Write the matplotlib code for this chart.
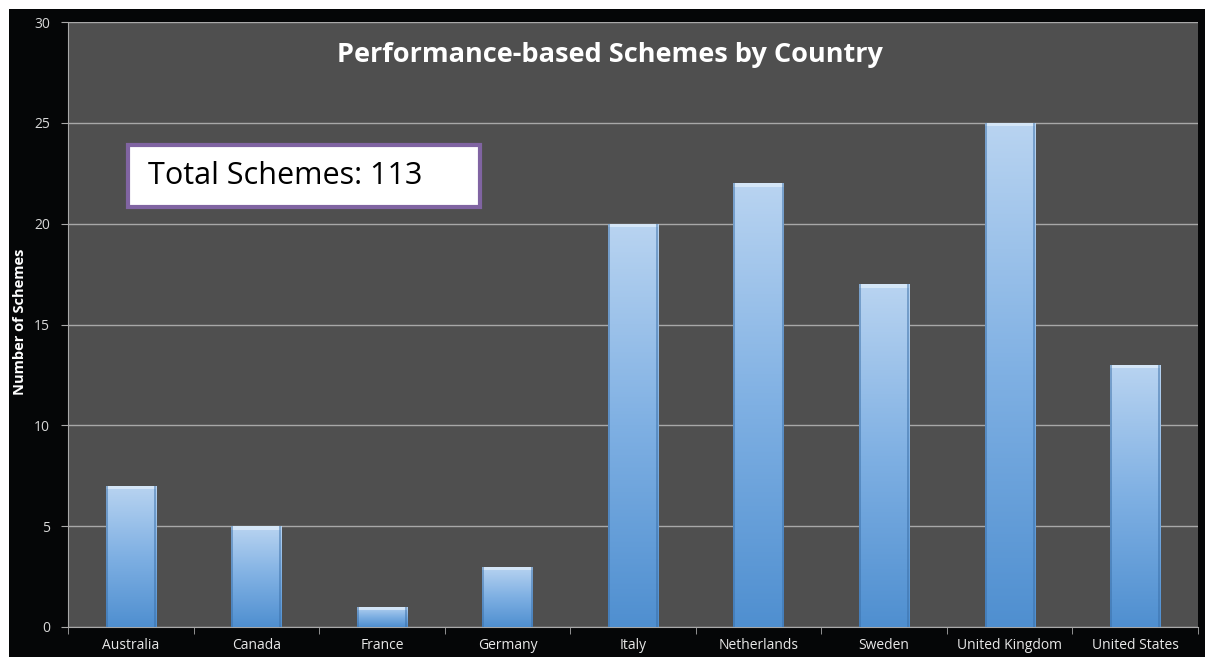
import numpy as np
import matplotlib
matplotlib.use("Agg")
import matplotlib.pyplot as plt
from matplotlib.patches import Rectangle
from matplotlib.colors import LinearSegmentedColormap

countries = ["Australia", "Canada", "France", "Germany", "Italy", "Netherlands",
             "Sweden", "United Kingdom", "United States"]
schemes = [7, 5, 1, 3, 20, 22, 17, 25, 13]
yticks = [0, 5, 10, 15, 20, 25, 30]
title = "Performance-based Schemes by Country"
ylabel = "Number of Schemes"
note = "Total Schemes: 113"

plt.rcParams['font.family'] = ['Open Sans', 'DejaVu Sans']

W, H = 1205, 657
fig = plt.figure(figsize=(W / 100, H / 100), dpi=100, facecolor="white")
fig.patches.append(Rectangle((9 / W, 0), 1 - 9 / W, 1 - 9 / H, transform=fig.transFigure,
                             facecolor="#050607", edgecolor="none", zorder=-10))

ax = fig.add_axes([68 / W, 1 - 627 / H, 1130 / W, 605 / H])
ax.set_facecolor("#4f4f4f")

x = np.arange(len(countries))
bars = ax.bar(x, schemes, width=0.4, color="#7eaee0", zorder=3)

cmap = LinearSegmentedColormap.from_list("g", ["#4f8fd0", "#7fb0e3", "#b9d4f1"])
grad = np.linspace(0, 1, 256).reshape(-1, 1)
for b in bars:
    x0, y0 = b.get_x(), b.get_y()
    w, h = b.get_width(), b.get_height()
    im = ax.imshow(grad, cmap=cmap, origin="lower", aspect="auto",
                   extent=[x0, x0 + w, y0, y0 + h], zorder=4)
    im.set_clip_path(b)
    ax.add_patch(Rectangle((x0, y0 + h - 0.18), w, 0.18, facecolor="#dcebfa",
                           edgecolor="none", zorder=5, alpha=0.8))
    ax.add_patch(Rectangle((x0, y0), w * 0.04, h, facecolor="#3a6fa8",
                           edgecolor="none", zorder=5, alpha=0.5))
    ax.add_patch(Rectangle((x0 + w * 0.96, y0), w * 0.04, h, facecolor="#3a6fa8",
                           edgecolor="none", zorder=5, alpha=0.5))

ax.set_xlim(-0.5, len(countries) - 0.5)
ax.set_ylim(0, 30)
ax.set_yticks(yticks)
ax.set_yticklabels([str(t) for t in yticks], color="#d8d8d8", fontsize=10)
ax.yaxis.grid(True, color="#a8a8a8", linewidth=1.0, zorder=1)
ax.set_axisbelow(True)

ax.set_xticks(x)
ax.set_xticklabels(countries, color="#e8e8e8", fontsize=10)
ax.tick_params(axis="x", length=0, pad=8)
ax.set_xticks(np.arange(-0.5, len(countries) + 0.5, 1), minor=True)
ax.tick_params(axis="x", which="minor", length=5, color="#a8a8a8", direction="out")
ax.tick_params(axis="y", length=5, color="#a8a8a8", pad=8)

for s in ["top", "right"]:
    ax.spines[s].set_visible(False)
ax.spines["left"].set_color("#a8a8a8")
ax.spines["bottom"].set_color("#a8a8a8")

fig.text(20 / W, 1 - 322 / H, ylabel, rotation=90, color="white", fontsize=10.5,
         fontweight="bold", ha="center", va="center")

ax.text(0.4796, 0.945, title, transform=ax.transAxes, color="white", fontsize=19.5,
        fontweight="bold", ha="center", va="center")

ax.add_patch(Rectangle((0.0531, 0.694), 0.3115, 0.103, transform=ax.transAxes,
                       facecolor="white", edgecolor="#8064a2", linewidth=3, zorder=9))
ax.text(0.0708, 0.745, note, transform=ax.transAxes, color="black", fontsize=22,
        ha="left", va="center", zorder=10)

fig.savefig("out.png", dpi=100, facecolor=fig.get_facecolor())
